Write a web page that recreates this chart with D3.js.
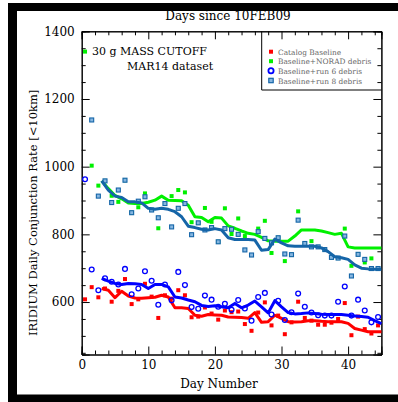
<!DOCTYPE html>
<html><head><meta charset="utf-8">
<script src="https://cdn.jsdelivr.net/npm/d3@7"></script>
<style>
html,body{margin:0;padding:0;background:#fff;}
svg{display:block;}
text{font-family:"DejaVu Serif",serif;}
</style></head>
<body><svg id="c" width="398" height="402"></svg>
<script>
// ---------- data ----------
const days = d3.range(45).map(i => i + 0.5); // 0.5 ... 44.5
const catalogBaseline = [608,644,614,640,601,633,668,594,608,654,616,553,620,610,635,620,555,557,584,566,548,575,570,572,535,515,569,599,531,560,505,540,601,553,545,533,533,539,550,597,502,557,520,507,531];
const noradDebris = [1340,1003,944,958,914,896,960,864,880,921,872,818,891,913,931,924,836,834,878,837,778,877,801,847,795,739,817,840,745,790,721,740,868,773,780,763,755,732,730,817,707,741,717,729,699];
const run6Debris = [963,696,635,670,660,652,698,623,640,691,663,592,652,605,689,650,585,580,619,607,586,595,577,606,581,545,615,627,563,604,547,570,625,586,569,561,560,560,601,646,560,607,575,540,556];
const run8Debris = [null,1138,913,958,894,931,960,864,898,911,872,849,891,822,877,891,799,834,813,820,778,817,815,800,754,739,808,788,775,790,742,740,842,773,763,763,755,732,730,795,677,741,726,699,699];

const lineDays = d3.range(3, 46); // 3 ... 45
const catalogLine = [640,635,613,632,618,612,611,613,614,620,615,583,583,581,561,558,563,562,561,556,555,554,552,569,540,542,561,552,542,541,542,545,545,543,542,542,542,537,522,517,512,512,512];
const noradLine = [958,935,915,905,893,891,891,895,901,913,901,900,899,886,852,850,837,850,848,825,818,810,803,800,791,781,780,780,780,795,813,813,813,810,805,800,803,763,760,760,760,760,760];
const run6Line = [670,662,655,652,655,654,652,640,652,652,645,615,612,606,601,590,587,589,586,583,596,583,591,603,586,568,604,586,569,565,566,568,566,564,563,563,563,561,559,557,555,545,536];
const run8Line = [958,931,913,909,896,896,893,877,874,877,874,867,852,824,820,815,813,817,813,790,785,785,785,783,753,755,786,775,766,765,765,765,765,760,749,734,731,726,710,700,698,697,697];

const xMajor = [0,10,20,30,40];
const yMajor = [600,800,1000,1200,1400];
const legendLabels = ["Catalog Baseline","Baseline+NORAD debris","Baseline+run 6 debris","Baseline+run 8 debris"];
const titleText = "Days since 10FEB09";
const xTitle = "Day Number";
const yTitle = "IRIDIUM Daily Conjunction Rate [<10km]";
const notes = ["30 g MASS CUTOFF","MAR14 dataset"];

// ---------- drawing ----------
const svg = d3.select("#c");
const L = 81.7, R = 381.4, T = 31.3, B = 354.5;
const x = d3.scaleLinear().domain([0,45]).range([L,R]);
const y = d3.scaleLinear().domain([445,1400]).range([B,T]);

// black frame
svg.append("rect").attr("x",8).attr("y",3).attr("width",390).attr("height",8).attr("fill","#000");
svg.append("rect").attr("x",8).attr("y",3).attr("width",9).attr("height",398).attr("fill","#000");
svg.append("rect").attr("x",8).attr("y",394.5).attr("width",390).attr("height",7.5).attr("fill","#000");

const col = {red:"#ff0000", green:"#00f000", blue:"#0000ff", steel:"#1565a8", steelFill:"#86b6e0"};

// axes
const xMinor = d3.range(0,46,2).filter(v => v % 10 !== 0);
const yMinor = d3.range(450,1401,50).filter(v => v % 200 !== 0);
function styleAxis(g){ g.selectAll("path,line").attr("stroke","#000").attr("stroke-width",1); g.selectAll("text").attr("font-size",12).attr("fill","#000").attr("font-family","DejaVu Serif"); }
svg.append("g").attr("transform",`translate(0,${B})`).call(d3.axisBottom(x).tickValues(xMajor).tickSize(-8).tickPadding(6).tickFormat(d3.format("d"))).call(styleAxis);
svg.append("g").attr("transform",`translate(0,${B})`).call(d3.axisBottom(x).tickValues(xMinor).tickSize(-4).tickFormat("")).call(styleAxis);
svg.append("g").attr("transform",`translate(0,${T})`).call(d3.axisTop(x).tickValues(xMajor).tickSize(-8).tickFormat("")).call(styleAxis);
svg.append("g").attr("transform",`translate(0,${T})`).call(d3.axisTop(x).tickValues(xMinor).tickSize(-4).tickFormat("")).call(styleAxis);
svg.append("g").attr("transform",`translate(${L},0)`).call(d3.axisLeft(y).tickValues(yMajor).tickSize(-8).tickPadding(7).tickFormat(d3.format("d"))).call(styleAxis);
svg.append("g").attr("transform",`translate(${L},0)`).call(d3.axisLeft(y).tickValues(yMinor).tickSize(-4).tickFormat("")).call(styleAxis);
svg.append("g").attr("transform",`translate(${R},0)`).call(d3.axisRight(y).tickValues(yMajor).tickSize(-8).tickFormat("")).call(styleAxis);
svg.append("g").attr("transform",`translate(${R},0)`).call(d3.axisRight(y).tickValues(yMinor).tickSize(-4).tickFormat("")).call(styleAxis);

// titles
svg.append("text").attr("x",228).attr("y",20).attr("text-anchor","middle").attr("font-size",12).text(titleText);
svg.append("text").attr("x",219).attr("y",388).attr("text-anchor","middle").attr("font-size",12).text(xTitle);
svg.append("text").attr("transform",`translate(37,${(T+B)/2+20}) rotate(-90)`).attr("text-anchor","middle").attr("font-size",11.5).text(yTitle);
svg.append("text").attr("x",92).attr("y",55).attr("font-size",11).text(notes[0]);
svg.append("text").attr("x",127).attr("y",70).attr("font-size",11).text(notes[1]);

const plot = svg.append("g");
const line = d3.line().defined(d => d[1] != null).x(d => x(d[0])).y(d => y(d[1]));
function squares(vals, size, fill, stroke){
  plot.append("g").selectAll("rect").data(days.map((d,i)=>[d,vals[i]]).filter(d=>d[1]!=null)).join("rect")
    .attr("x", d => x(d[0]) - size/2).attr("y", d => y(d[1]) - size/2)
    .attr("width", size).attr("height", size).attr("fill", fill)
    .attr("stroke", stroke || "none").attr("stroke-width", stroke ? 1.1 : 0);
}
function drawLine(vals, color){
  plot.append("path").datum(lineDays.map((d,i)=>[d,vals[i]])).attr("d", line)
    .attr("fill","none").attr("stroke",color).attr("stroke-width",3).attr("stroke-linejoin","round");
}
squares(catalogBaseline, 4, col.red);
drawLine(catalogLine, col.red);
squares(noradDebris, 4, col.green);
drawLine(noradLine, col.green);
plot.append("g").selectAll("circle").data(days.map((d,i)=>[d,run6Debris[i]]).filter(d=>d[1]!=null)).join("circle")
  .attr("cx", d => x(d[0])).attr("cy", d => y(d[1])).attr("r", 2.4)
  .attr("fill","none").attr("stroke",col.blue).attr("stroke-width",1.3);
drawLine(run6Line, col.blue);
squares(run8Debris, 4, col.steelFill, col.steel);
drawLine(run8Line, col.steel);

// legend
const lgX = 261.7, lgB = 90;
svg.append("path").attr("d",`M${lgX},${T}V${lgB}H${R}`).attr("fill","none").attr("stroke","#000").attr("stroke-width",1);
const rowY = [51.7, 61.2, 70.8, 80.5];
const lg = svg.append("g");
lg.append("rect").attr("x",269).attr("y",rowY[0]-2).attr("width",4).attr("height",4).attr("fill",col.red);
lg.append("rect").attr("x",269).attr("y",rowY[1]-2).attr("width",4).attr("height",4).attr("fill",col.green);
lg.append("circle").attr("cx",271).attr("cy",rowY[2]).attr("r",2.6).attr("fill","none").attr("stroke",col.blue).attr("stroke-width",1.8);
lg.append("rect").attr("x",268.8).attr("y",rowY[3]-2.2).attr("width",4.4).attr("height",4.4).attr("fill",col.steelFill).attr("stroke",col.steel).attr("stroke-width",1.2);
lg.selectAll("text").data(legendLabels).join("text")
  .attr("x",278).attr("y",(d,i)=>rowY[i]+3).attr("font-size",7.4).attr("font-family","Liberation Serif").attr("fill","#666").text(d=>d);
</script></body></html>
